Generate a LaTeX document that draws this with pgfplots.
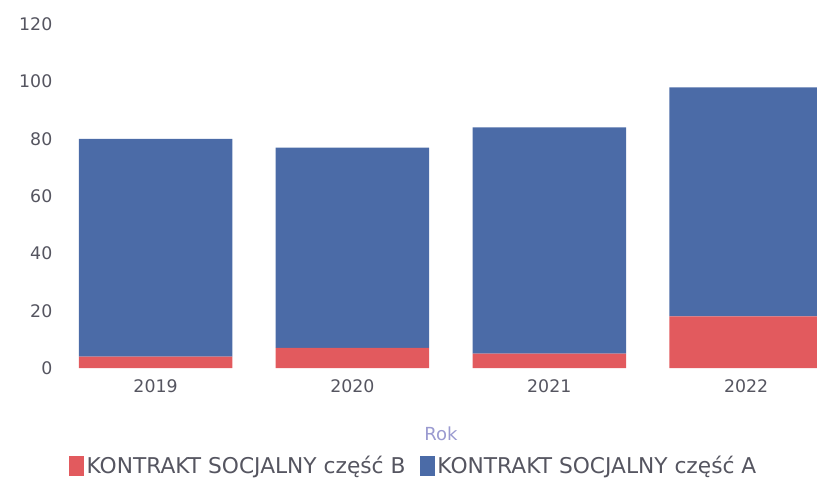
\documentclass[border=0pt]{standalone}
\usepackage{pgfplots}
\pgfplotsset{compat=1.18}
\usepackage{fontspec}
\setmainfont{DejaVu Sans}
\definecolor{cB}{HTML}{E25A5E}
\definecolor{cA}{HTML}{4B6BA7}
\definecolor{tick}{HTML}{555560}
\definecolor{lab}{HTML}{9A9AD0}
\begin{document}
\begin{tikzpicture}
\begin{axis}[
  name=ax,
  scale only axis,
  width=564pt, height=262pt,
  ybar stacked,
  bar width=0.78,
  xmin=-0.46, xmax=3.36,
  ymin=0, ymax=122,
  axis line style={draw=none},
  clip=true,
  xtick={0,1,2,3},
  xticklabels={2019,2020,2021,2022},
  ytick={0,20,40,60,80,100,120},
  major tick length=0pt,
  tick style={draw=none},
  tick label style={font=\fontsize{13}{15}\selectfont, text=tick},
  /pgf/number format/assume math mode=true,
  xticklabel style={yshift=-5pt},
  yticklabel style={xshift=-6pt},
  xlabel={Rok},
  xlabel style={font=\fontsize{13.5}{15}\selectfont, text=lab, yshift=-19pt},
  legend columns=2,
  legend style={draw=none, fill=none, at={(0.0,-0.28)}, anchor=west,
    font=\fontsize{16.3}{18}\selectfont, text=tick,
    /tikz/every even column/.append style={column sep=9pt}},
  legend image code/.code={\fill[#1] (0pt,-7.5pt) rectangle (11pt,7.5pt);},
]
\addplot+[fill=cB, draw=none] coordinates {(0,4) (1,7) (2,5) (3,18)};
\addplot+[fill=cA, draw=none] coordinates {(0,76) (1,70) (2,79) (3,80)};
\legend{KONTRAKT SOCJALNY część B, KONTRAKT SOCJALNY część A}
\end{axis}
\pgfresetboundingbox
\path[use as bounding box] ([shift={(-48.75pt,-91.5pt)}]ax.south west) rectangle ([shift={(0pt,14pt)}]ax.north east);
\end{tikzpicture}
\end{document}
